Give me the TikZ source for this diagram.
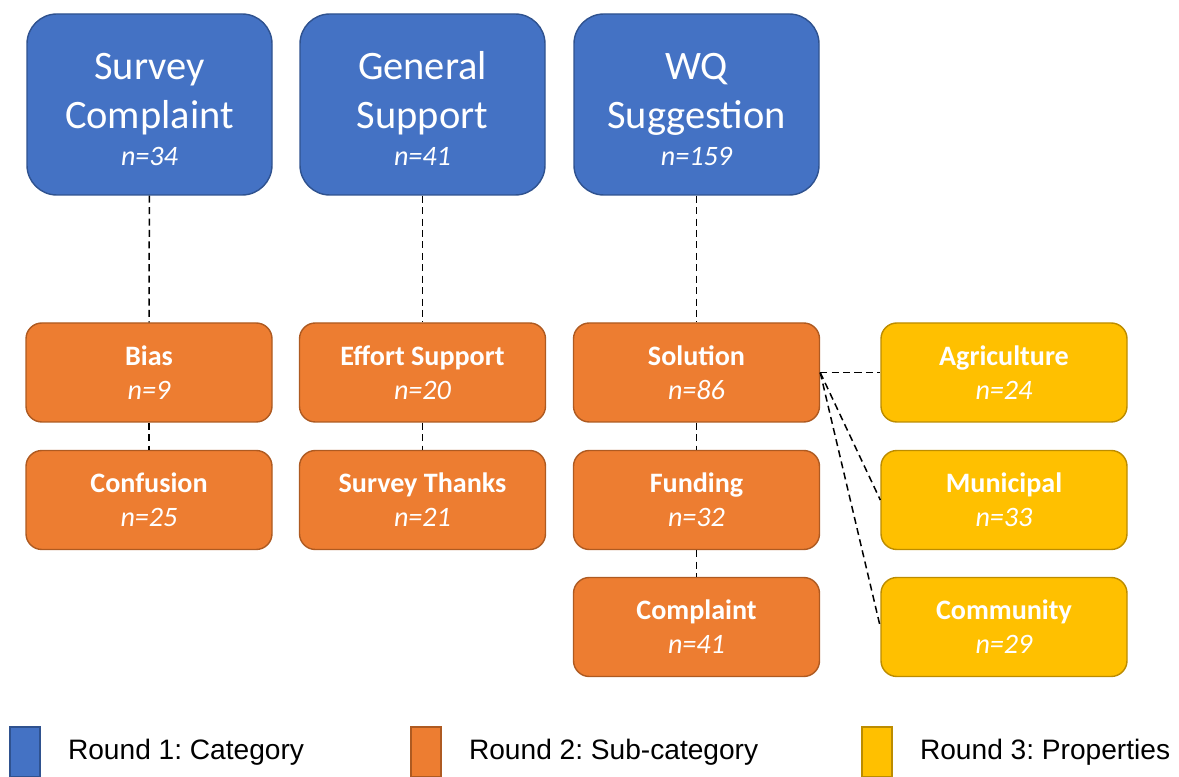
\documentclass[tikz,border=0pt]{standalone}
\usepackage{fontspec}
\usepackage{xcolor}
\usepackage{tikz}
\usetikzlibrary{positioning}
\newfontfamily\boxfont{Carlito}
\newfontfamily\keyfont{Liberation Sans}
\definecolor{catblue}{RGB}{68, 114, 196}
\definecolor{catline}{RGB}{47, 82, 143}
\definecolor{suborange}{RGB}{237, 125, 49}
\definecolor{subline}{RGB}{174, 90, 33}
\definecolor{propyellow}{RGB}{255, 192, 0}
\definecolor{propline}{RGB}{188, 140, 0}
\newcommand{\topstrut}{\rule{0pt}{21pt}}
\frenchspacing

\begin{document}
\begin{tikzpicture}[
  every node/.style={text=white},
  cat/.style={draw=catline, fill=catblue, line width=0.8pt, rounded corners=17pt, minimum width=4.9cm, minimum height=3.62cm, align=center, font=\boxfont\fontsize{23}{27.5}\selectfont},
  sub/.style={draw=subline, fill=suborange, line width=0.8pt, rounded corners=9pt, minimum width=4.92cm, minimum height=1.98cm, align=center, font=\boxfont\bfseries\fontsize{16}{19.5}\selectfont},
  prop/.style={sub, draw=propline, fill=propyellow},
  link/.style={dash pattern=on 4pt off 2.5pt, line width=0.85pt, black},
  key/.style={minimum width=0.6cm, minimum height=1cm, inner sep=0pt, line width=0.8pt},
  keytext/.style={text=black, inner sep=0pt, font=\keyfont\fontsize{16}{19}\selectfont}
]
  \useasboundingbox (0, 0) rectangle (23.58, -15.54);

  % Round 1
  \node[cat] (sc) at (2.99, -2.09) {\topstrut Survey\\Complaint\\[-6pt]{\fontsize{16}{19}\selectfont\itshape n=34}};
  \node[cat] (gs) at (8.45, -2.09) {\topstrut General\\Support\\[-6pt]{\fontsize{16}{19}\selectfont\itshape n=41}};
  \node[cat] (wq) at (13.93, -2.09) {\topstrut WQ\\Suggestion\\[-6pt]{\fontsize{16}{19}\selectfont\itshape n=159}};

  % Round 2
  \node[sub] (bias) at (2.98, -7.45) {Bias\\{\mdseries\itshape n=9}};
  \node[sub] (conf) at (2.98, -10.0) {Confusion\\{\mdseries\itshape n=25}};
  \node[sub] (eff) at (8.45, -7.45) {Effort Support\\{\mdseries\itshape n=20}};
  \node[sub] (thx) at (8.45, -10.0) {Survey Thanks\\{\mdseries\itshape n=21}};
  \node[sub] (sol) at (13.93, -7.45) {Solution\\{\mdseries\itshape n=86}};
  \node[sub] (fund) at (13.93, -10.0) {Funding\\{\mdseries\itshape n=32}};
  \node[sub] (compl) at (13.93, -12.54) {Complaint\\{\mdseries\itshape n=41}};

  % Round 3
  \node[prop] (agri) at (20.08, -7.45) {Agriculture\\{\mdseries\itshape n=24}};
  \node[prop] (muni) at (20.08, -10.0) {Municipal\\{\mdseries\itshape n=33}};
  \node[prop] (comm) at (20.08, -12.54) {Community\\{\mdseries\itshape n=29}};

  \draw[link] (sc) -- (bias);
  \draw[link] (bias) -- (conf);
  \draw[link] (gs) -- (eff);
  \draw[link] (eff) -- (thx);
  \draw[link] (wq) -- (sol);
  \draw[link] (sol) -- (fund);
  \draw[link] (fund) -- (compl);
  \draw[link] (sol.east) -- (agri.west);
  \draw[link] (sol.east) -- (muni.west);
  \draw[link] (sol.east) -- (comm.west);

  % Legenda
  \node[key, draw=catline, fill=catblue] (k1) at (0.5, -15.04) {};
  \node[keytext, right=0.54cm of k1] (t1) {Round 1: Category};
  \node[key, draw=subline, fill=suborange] (k2) at (8.52, -15.04) {};
  \node[keytext, right=0.54cm of k2] (t2) {Round 2: Sub-category};
  \node[key, draw=propline, fill=propyellow] (k3) at (17.54, -15.04) {};
  \node[keytext, right=0.54cm of k3] (t3) {Round 3: Properties};
\end{tikzpicture}
\end{document}
